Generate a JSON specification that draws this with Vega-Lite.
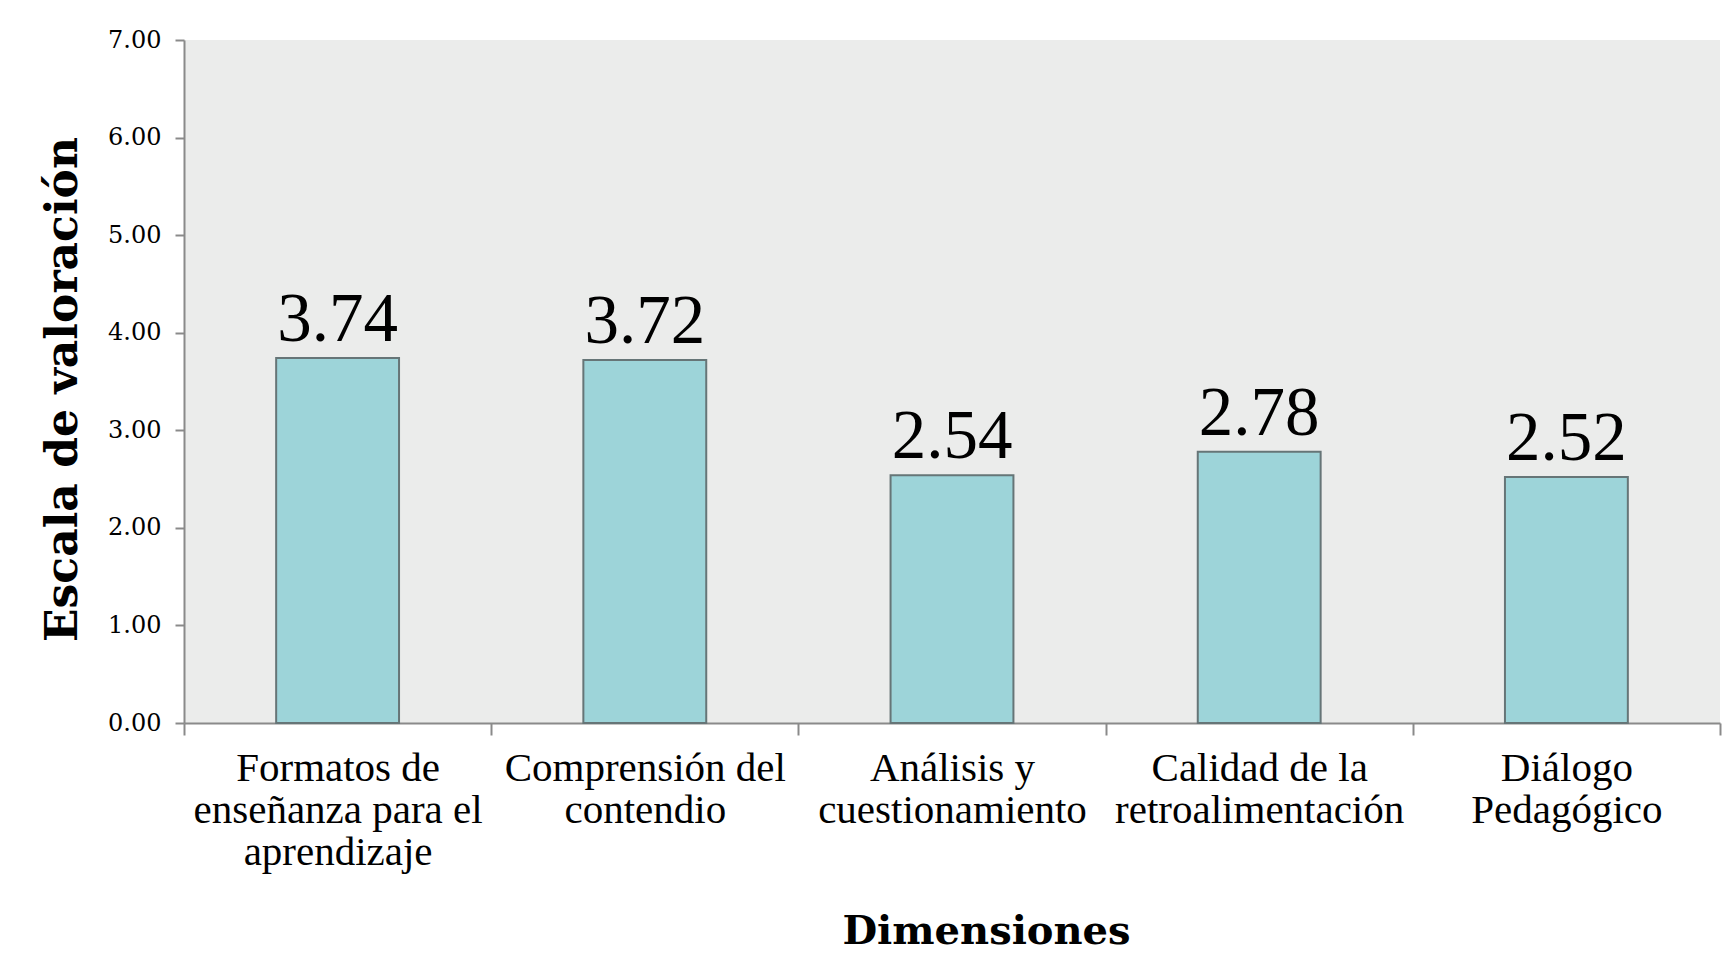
{
  "$schema": "https://vega.github.io/schema/vega-lite/v6.json",
  "width": 1536,
  "height": 683,
  "autosize": {"type": "none"},
  "padding": {"left": 184, "top": 40, "right": 16, "bottom": 235},
  "background": "#ffffff",
  "config": {
    "view": {"fill": "#EBECEB", "stroke": null},
    "axis": {"grid": false, "domainColor": "#8a8a8a", "domainWidth": 2, "tickColor": "#8a8a8a", "tickWidth": 2}
  },
  "data": {
    "values": [
      {"Dimension": "Formatos de enseñanza para el aprendizaje", "Valor": 3.74},
      {"Dimension": "Comprensión del contendio", "Valor": 3.72},
      {"Dimension": "Análisis y cuestionamiento", "Valor": 2.54},
      {"Dimension": "Calidad de la retroalimentación", "Valor": 2.78},
      {"Dimension": "Diálogo Pedagógico", "Valor": 2.52}
    ]
  },
  "encoding": {
    "x": {
      "field": "Dimension",
      "type": "nominal",
      "sort": null,
      "scale": {"paddingInner": 0, "paddingOuter": 0},
      "axis": {
        "title": "Dimensiones",
        "titleFont": "DejaVu Serif",
        "titleFontWeight": "bold",
        "titleFontSize": 40,
        "titleColor": "#000000",
        "titleBaseline": "alphabetic",
        "titleAnchor": "start",
        "titleAlign": "center",
        "titleX": 802,
        "titleY": 220,
        "labelAngle": 0,
        "labelFont": "Liberation Serif",
        "labelFontSize": 41,
        "labelColor": "#000000",
        "labelLineHeight": 42,
        "labelBaseline": "alphabetic",
        "labelPadding": 45,
        "labelLimit": 0,
        "labelOverlap": false,
        "tickSize": 12,
        "tickBand": "extent",
        "labelExpr": "datum.label == 'Formatos de enseñanza para el aprendizaje' ? ['Formatos de', 'enseñanza para el', 'aprendizaje'] : datum.label == 'Comprensión del contendio' ? ['Comprensión del', 'contendio'] : datum.label == 'Análisis y cuestionamiento' ? ['Análisis y', 'cuestionamiento'] : datum.label == 'Calidad de la retroalimentación' ? ['Calidad de la', 'retroalimentación'] : datum.label == 'Diálogo Pedagógico' ? ['Diálogo', 'Pedagógico'] : ''"
      }
    },
    "y": {
      "field": "Valor",
      "type": "quantitative",
      "scale": {"domain": [0, 7], "nice": false},
      "axis": {
        "title": "Escala de valoración",
        "titleFont": "DejaVu Serif",
        "titleFontWeight": "bold",
        "titleFontSize": 44,
        "titleColor": "#000000",
        "titleAngle": 270,
        "titleBaseline": "middle",
        "titleAlign": "center",
        "titleAnchor": "start",
        "titleX": -121,
        "titleY": 349,
        "values": [0, 1, 2, 3, 4, 5, 6, 7],
        "format": ".2f",
        "labelFont": "DejaVu Serif",
        "labelFontSize": 24,
        "labelColor": "#000000",
        "labelPadding": 14,
        "tickSize": 9
      }
    }
  },
  "layer": [
    {
      "mark": {"type": "bar", "width": {"band": 0.4}, "fill": "#9DD4D9", "stroke": "#667577", "strokeWidth": 2}
    },
    {
      "mark": {"type": "text", "font": "Liberation Serif", "fontSize": 69, "color": "#000000", "baseline": "alphabetic", "dy": -17},
      "encoding": {"text": {"field": "Valor", "type": "quantitative", "format": ".2f"}}
    }
  ]
}
